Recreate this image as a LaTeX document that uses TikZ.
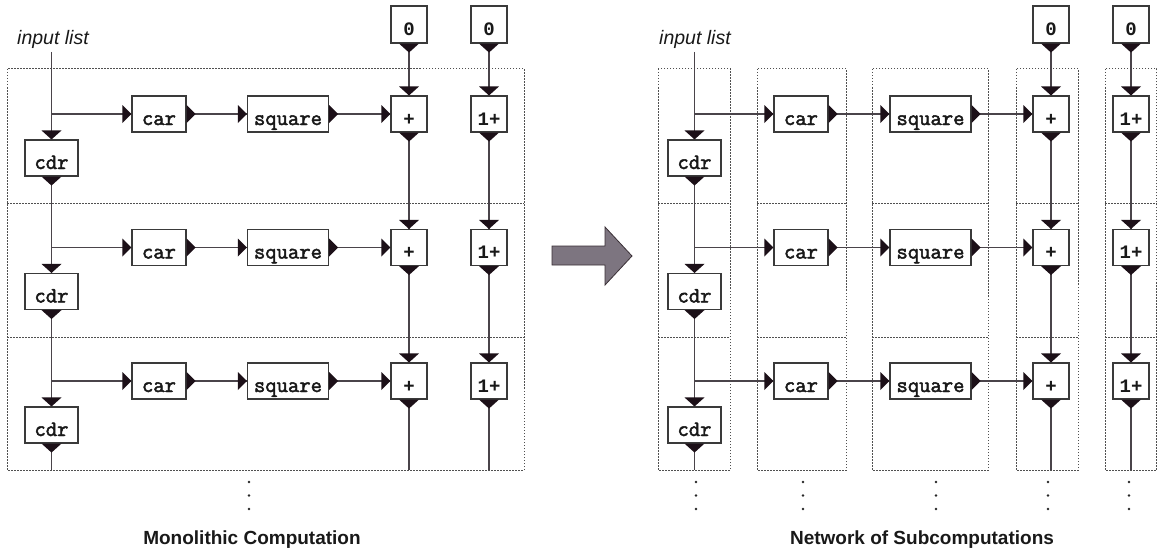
\documentclass[tikz,border=0pt]{standalone}
\usepackage{fontspec}
\setmainfont{Liberation Sans}
\newfontfamily\opfont{Liberation Mono}
\newfontfamily\typefont[FakeBold=2.2]{Latin Modern Mono}
\usetikzlibrary{backgrounds}

\definecolor{wirec}{HTML}{4A444A}
\definecolor{portc}{HTML}{1C1018}
\definecolor{boxc}{HTML}{3A3A3A}
\definecolor{dotc}{HTML}{505050}
\definecolor{arrowfill}{HTML}{7D7580}
\definecolor{arrowedge}{HTML}{3A3036}

\tikzset{
  box/.style={draw=boxc, line width=1.1pt, fill=white, minimum height=36pt,
    inner sep=0pt, text height=22pt, text depth=0pt, text=black!90,
    font=\fontsize{22}{24}\selectfont\typefont\bfseries},
  opbox/.style={box, minimum width=36pt,
    font=\fontsize{19}{22}\selectfont\opfont\bfseries},
  wire/.style={draw=wirec, line width=1.3pt},
  port/.style={fill=portc},
  region/.style={draw=dotc, line width=1pt, dash pattern=on 1.5pt off 1.5pt},
  caption/.style={font=\fontsize{19}{22}\selectfont\bfseries, text=black!90, inner sep=0pt},
  inlabel/.style={font=\fontsize{19.5}{22}\selectfont\itshape, text=black!90, inner sep=0pt},
}

% port triangles: inputs point into a box, outputs hang off it
\newcommand{\portInN}[1]{\fill[port] (#1.north) -- ++(-10,-9) -- ++(20,0) -- cycle;}
\newcommand{\portOutS}[1]{\fill[port] ([xshift=-10pt]#1.south) -- ++(20,0) -- ++(-10,9) -- cycle;}
\newcommand{\portInW}[1]{\fill[port] (#1.west) -- ++(-9,-9) -- ++(0,18) -- cycle;}
\newcommand{\portOutE}[1]{\fill[port] ([yshift=9pt]#1.east) -- ++(0,18) -- ++(9,-9) -- cycle;}

% one copy of the list-processing pipeline
% #1 name prefix, #2 x of cdr, #3 x of car, #4 x of square, #5 x of +, #6 x of 1+
\newcommand{\pipeline}[6]{%
  \coordinate (#1in) at (#2,52);
  \coordinate (#1bot) at (#2,470);
  \node[opbox, minimum height=37pt] (#1zA) at (#5,24.5) {0};
  \node[opbox, minimum height=37pt] (#1zB) at (#6,24.5) {0};
  \foreach \r/\y in {1/114,2/247.5,3/381}{
    \node[box, minimum width=53pt] (#1cdr\r) at (#2,\y+44) {cdr};
    \node[box, minimum width=54pt] (#1car\r) at (#3,\y) {car};
    \node[box, minimum width=81pt] (#1sq\r) at (#4,\y) {square};
    \node[opbox] (#1pl\r) at (#5,\y) {+};
    \node[opbox] (#1inc\r) at (#6,\y) {1+};
  }
  \begin{scope}[on background layer]
    \draw[wire] (#1in) -- (#1cdr1.north);
    \draw[wire] (#1zA.south) -- (#1pl1.north);
    \draw[wire] (#1zB.south) -- (#1inc1.north);
    \foreach \r/\p in {2/1,3/2}{
      \draw[wire] (#1cdr\p.south) -- (#1cdr\r.north);
      \draw[wire] (#1pl\p.south) -- (#1pl\r.north);
      \draw[wire] (#1inc\p.south) -- (#1inc\r.north);
    }
    \foreach \r in {1,2,3}{
      \draw[wire] (#1cdr\r |- #1car\r) -- (#1car\r.west);
      \draw[wire] (#1car\r.east) -- (#1sq\r.west);
      \draw[wire] (#1sq\r.east) -- (#1pl\r.west);
    }
    \draw[wire] (#1cdr3.south) -- (#1bot);
    \draw[wire] (#1pl3.south) -- (#1pl3 |- #1bot);
    \draw[wire] (#1inc3.south) -- (#1inc3 |- #1bot);
  \end{scope}
  \portOutS{#1zA}
  \portOutS{#1zB}
  \foreach \r in {1,2,3}{
    \portInN{#1cdr\r}\portOutS{#1cdr\r}
    \portInW{#1car\r}\portOutE{#1car\r}
    \portInW{#1sq\r}\portOutE{#1sq\r}
    \portInW{#1pl\r}\portInN{#1pl\r}\portOutS{#1pl\r}
    \portInN{#1inc\r}\portOutS{#1inc\r}
  }
}

% a dotted region split into three stacked cells
\newcommand{\cells}[2]{%
  \begin{scope}[on background layer]
    \draw[region] (#1,69) rectangle (#2,470);
    \draw[region] (#1,203) -- (#2,203);
    \draw[region] (#1,337) -- (#2,337);
  \end{scope}
}

\newcommand{\vdotsat}[1]{%
  \fill[black!85] (#1,482) circle (1.3);
  \fill[black!85] (#1,495.5) circle (1.3);
  \fill[black!85] (#1,509) circle (1.3);
}

\begin{document}
\begin{tikzpicture}[x=1pt,y=-1pt]
  \useasboundingbox (0,0) rectangle (1157,551);
  \begin{scope}[on background layer]
    \fill[white] (0,0) rectangle (1157,551);
  \end{scope}

  % left: one monolithic computation
  \cells{7}{524}
  \node[inlabel, anchor=base west] (inlabL) at (17,44.5) {input list};
  \pipeline{L}{51.5}{159}{288}{409}{489}
  \vdotsat{249}
  \node[caption, anchor=base] (capL) at (252,544) {Monolithic Computation};

  % transformation arrow
  \filldraw[fill=arrowfill, draw=arrowedge, line width=0.8pt]
    (552,246) -- (605,246) -- (605,227) -- (632,256) -- (605,285)
    -- (605,265) -- (552,265) -- cycle;

  % right: network of subcomputations
  \cells{658}{730}
  \cells{757}{846}
  \cells{872}{988}
  \cells{1016}{1078}
  \cells{1105}{1156.5}
  \node[inlabel, anchor=base west] (inlabR) at (659,44.5) {input list};
  \pipeline{R}{694.5}{801}{930.5}{1051}{1131}
  \vdotsat{696}
  \vdotsat{803}
  \vdotsat{936}
  \vdotsat{1048}
  \vdotsat{1129}
  \node[caption, anchor=base] (capR) at (922,544) {Network of Subcomputations};
\end{tikzpicture}
\end{document}
